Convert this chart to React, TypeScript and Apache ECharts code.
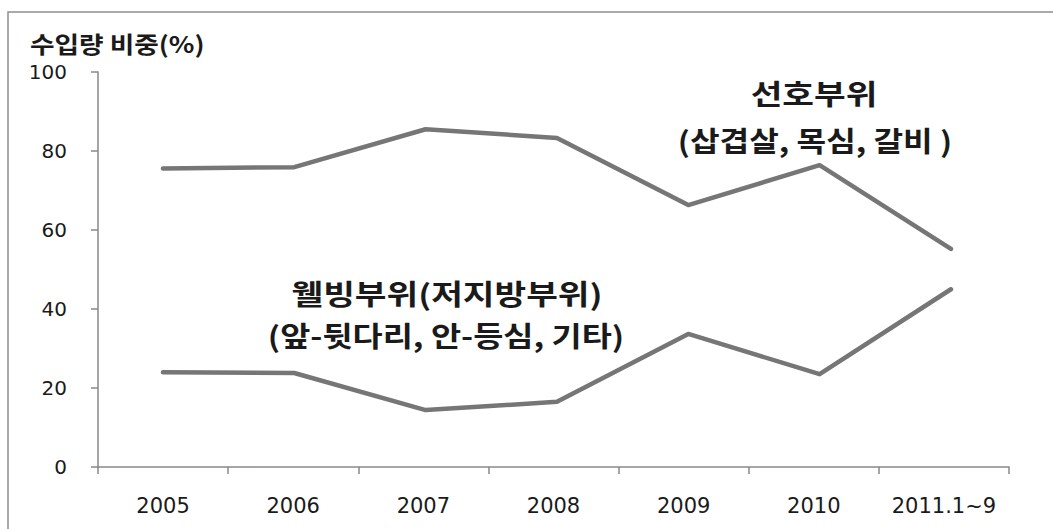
import React, { useEffect, useRef } from "react";
import * as echarts from "echarts";

const years = ["2005", "2006", "2007", "2008", "2009", "2010", "2011.1~9"];
const preferredCuts = [75.6, 75.9, 85.5, 83.3, 66.3, 76.4, 55.2];
const wellbeingCuts = [24.0, 23.8, 14.4, 16.5, 33.7, 23.5, 45.0];
const yMin = 0;
const yMax = 100;
const yInterval = 20;

const yTitle = "수입량 비중(%)";
const prefTitle = "선호부위";
const prefSub = "(삽겹살, 목심, 갈비 )";
const wellTitle = "웰빙부위(저지방부위)";
const wellSub = "(앞-뒷다리, 안-등심, 기타)";

const AXIS = "#888888";
const LINE = "#767676";
const TXT = "#1a1a1a";
const KFONT = "'Noto Sans CJK KR', 'Noto Sans', sans-serif";
const NFONT = "'DejaVu Sans', sans-serif";

export default function App() {
  const ref = useRef<HTMLDivElement>(null);
  useEffect(() => {
    document.body.style.margin = "0";
    if (!ref.current) return;
    const chart = echarts.init(ref.current, undefined, { renderer: "svg" });
    const annStyle = (text: string) => ({
      text,
      fill: TXT,
      font: `bold 28px ${KFONT}`,
      textAlign: "center",
      textVerticalAlign: "middle",
    });
    chart.setOption({
      animation: false,
      backgroundColor: "#ffffff",
      grid: [
        { left: 98, right: 44, top: 72, bottom: 62 },
        { left: 97.3, right: 36.4, top: 72, bottom: 62 },
      ],
      xAxis: [
        {
          type: "category",
          gridIndex: 0,
          data: years,
          boundaryGap: true,
          axisLine: { lineStyle: { color: AXIS, width: 1.5 } },
          axisTick: { show: true, length: 7, lineStyle: { color: AXIS, width: 1.5 } },
          axisLabel: { color: TXT, fontSize: 21, fontFamily: NFONT, margin: 28, interval: 0 },
          splitLine: { show: false },
        },
        {
          type: "category",
          gridIndex: 1,
          data: years,
          boundaryGap: true,
          show: false,
        },
      ],
      yAxis: [
        {
          type: "value",
          gridIndex: 0,
          min: yMin,
          max: yMax,
          interval: yInterval,
          axisLine: { show: true, lineStyle: { color: AXIS, width: 1.5 } },
          axisTick: { show: true, length: 7, lineStyle: { color: AXIS, width: 1.5 } },
          axisLabel: { color: TXT, fontSize: 20, fontFamily: NFONT, margin: 31 },
          splitLine: { show: false },
        },
        {
          type: "value",
          gridIndex: 1,
          min: yMin,
          max: yMax,
          interval: yInterval,
          show: false,
          splitLine: { show: false },
        },
      ],
      series: [
        {
          type: "line",
          name: prefTitle,
          xAxisIndex: 1,
          yAxisIndex: 1,
          data: preferredCuts,
          symbol: "none",
          lineStyle: { color: LINE, width: 4.5, cap: "round", join: "round" },
        },
        {
          type: "line",
          name: wellTitle,
          xAxisIndex: 1,
          yAxisIndex: 1,
          data: wellbeingCuts,
          symbol: "none",
          lineStyle: { color: LINE, width: 4.5, cap: "round", join: "round" },
        },
      ],
      graphic: [
        {
          type: "rect",
          shape: { x: 8, y: 12, width: 1200, height: 700 },
          style: { fill: "none", stroke: "#8f8f8f", lineWidth: 1.5 },
          silent: true,
          z: -1,
        },
        {
          type: "text",
          x: 30,
          y: 43,
          scaleX: 1.16,
          style: {
            text: yTitle,
            fill: TXT,
            font: `bold 23px ${KFONT}`,
            textAlign: "left",
            textVerticalAlign: "middle",
          },
        },
        { type: "text", x: 814, y: 93, scaleX: 1.23, style: annStyle(prefTitle) },
        { type: "text", x: 815, y: 140, scaleX: 1.15, style: annStyle(prefSub) },
        { type: "text", x: 447, y: 293, scaleX: 1.23, style: annStyle(wellTitle) },
        { type: "text", x: 446, y: 335, scaleX: 1.17, style: annStyle(wellSub) },
      ],
    });
    return () => chart.dispose();
  }, []);
  return <div ref={ref} style={{ width: 1053, height: 529 }} />;
}
